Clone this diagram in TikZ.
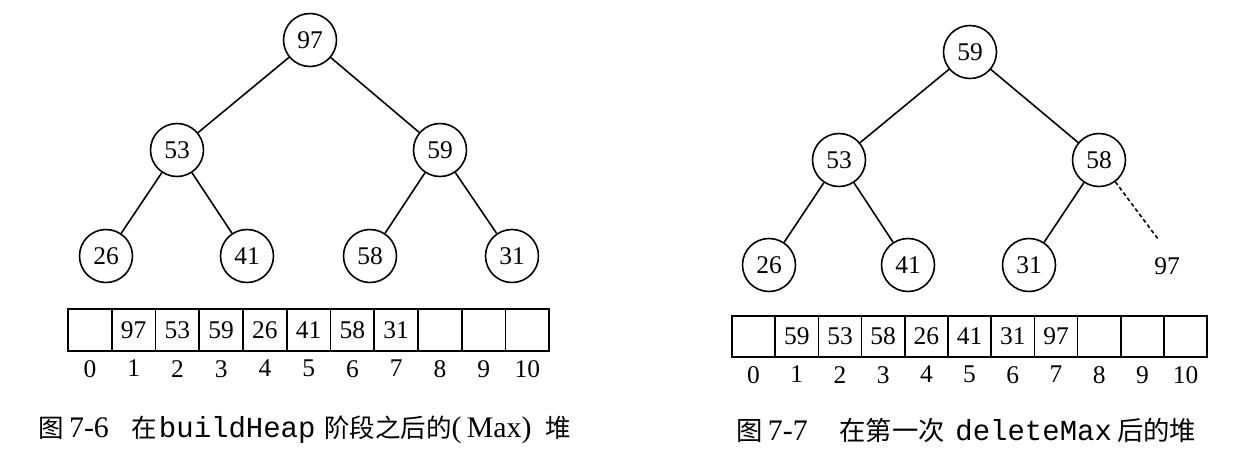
\documentclass[tikz,border=0pt]{standalone}
\usepackage{fontspec}
\setmainfont{Liberation Serif}
\setmonofont{Liberation Mono}
\newfontfamily\cjk{Noto Sans CJK SC}
\usetikzlibrary{positioning}

\begin{document}
\begin{tikzpicture}[
    x=0.02cm, y=-0.02cm,
    font=\fontsize{14.5}{16}\selectfont,
    heapnode/.style={circle, draw, line width=0.9pt, minimum size=1.06cm, inner sep=0pt},
    link/.style={line width=0.9pt},
    lcell/.style={rectangle, draw, line width=0.9pt, minimum width=0.875cm, minimum height=0.84cm, inner sep=0pt},
    rcell/.style={rectangle, draw, line width=0.9pt, minimum width=0.864cm, minimum height=0.82cm, inner sep=0pt},
    idx/.style={inner sep=0pt, below=0.16cm of #1},
    caption/.style={anchor=base west, inner sep=0pt}
]
\useasboundingbox (0,0) rectangle (1236,460);

\node[heapnode] (a97) at (310,40) {97};
\node[heapnode] (a53) at (177,150) {53};
\node[heapnode] (a59) at (440,150) {59};
\node[heapnode] (a26) at (106,256) {26};
\node[heapnode] (a41) at (247,256) {41};
\node[heapnode] (a58) at (370,256) {58};
\node[heapnode] (a31) at (512,256) {31};
\draw[link] (a97) -- (a53);
\draw[link] (a97) -- (a59);
\draw[link] (a53) -- (a26);
\draw[link] (a53) -- (a41);
\draw[link] (a59) -- (a58);
\draw[link] (a59) -- (a31);

\foreach \v [count=\i from 0] in {{},97,53,59,26,41,58,31,{},{},{}} {
    \node[lcell] (l\i) at ({89.875+43.75*\i},330) {\v};
    \node[idx=l\i] (li\i) {\i};
}

\node[caption] (capA) at (38,437) {{\cjk 图}\hspace{3pt}{\fontsize{17}{18}\selectfont 7-6}\hspace{13pt}{\cjk 在}\hspace{1pt}{\fontsize{16.5}{18}\selectfont\ttfamily buildHeap}\hspace{5pt}{\cjk 阶段之后的}{\fontsize{17}{18}\selectfont(\hspace{3pt}Max)}\hspace{8pt}{\cjk 堆}};

\node[heapnode] (b59) at (970,52) {59};
\node[heapnode] (b53) at (839,160) {53};
\node[heapnode] (b58) at (1099,160) {58};
\node[heapnode] (b26) at (769,265) {26};
\node[heapnode] (b41) at (908,265) {41};
\node[heapnode] (b31) at (1029,265) {31};
\node (b97) at (1167,266) {97};
\coordinate (b97end) at (1158,239);
\draw[link] (b59) -- (b53);
\draw[link] (b59) -- (b58);
\draw[link] (b53) -- (b26);
\draw[link] (b53) -- (b41);
\draw[link] (b58) -- (b31);
\draw[link, dash pattern=on 2.2pt off 1.6pt] (b58) -- (b97end);

\foreach \v [count=\i from 0] in {{},59,53,58,26,41,31,97,{},{},{}} {
    \node[rcell] (r\i) at ({753.6+43.2*\i},336.5) {\v};
    \node[idx=r\i] (ri\i) {\i};
}

\node[caption] (capB) at (736,440) {{\cjk\fontsize{15}{18}\selectfont 图}\hspace{3pt}{\fontsize{17}{18}\selectfont 7-7}\hspace{18pt}{\cjk\fontsize{15}{18}\selectfont 在第一次}\hspace{6pt}{\fontsize{16.5}{18}\selectfont\ttfamily deleteMax}\hspace{3pt}{\cjk\fontsize{15}{18}\selectfont 后的堆}};
\end{tikzpicture}
\end{document}
